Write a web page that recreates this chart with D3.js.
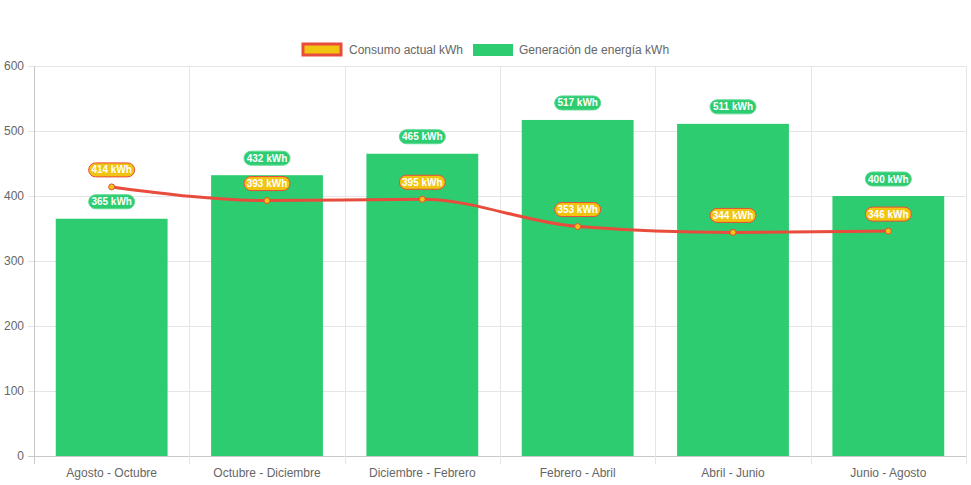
<!DOCTYPE html>
<html lang="es">
<head>
<meta charset="UTF-8">
<script src="https://d3js.org/d3.v7.min.js"></script>
<style>
  body { margin: 0; background: #fff; font-family: "Liberation Sans", Arial, sans-serif; }
  svg text { font-family: "Liberation Sans", Arial, sans-serif; }
</style>
</head>
<body>
<div id="chart"></div>
<script>
const periods = ["Agosto - Octubre", "Octubre - Diciembre", "Diciembre - Febrero", "Febrero - Abril", "Abril - Junio", "Junio - Agosto"];
const consumo = [414, 393, 395, 353, 344, 346];
const generacion = [365, 432, 465, 517, 511, 400];
const yTicks = [0, 100, 200, 300, 400, 500, 600];

const width = 971, height = 485;
const margin = { top: 66, right: 5, bottom: 29, left: 34 };
const green = "#2ecc71", yellow = "#f1c40f", red = "#e74c3c";

const svg = d3.select("#chart").append("svg")
    .attr("width", width)
    .attr("height", height);

const x = d3.scaleBand()
    .domain(periods)
    .range([margin.left, width - margin.right]);

const y = d3.scaleLinear()
    .domain([0, 600])
    .range([height - margin.bottom, margin.top]);

// grid
const grid = svg.append("g");
grid.selectAll("line.h")
    .data(yTicks)
    .enter().append("line")
    .attr("x1", margin.left - 6)
    .attr("x2", width - margin.right)
    .attr("y1", d => y(d) + 0.5)
    .attr("y2", d => y(d) + 0.5)
    .attr("stroke", d => d === 0 ? "#c8c8c8" : "#e5e5e5");

const vlines = periods.map(p => x(p)).concat([width - margin.right]);
grid.selectAll("line.v")
    .data(vlines)
    .enter().append("line")
    .attr("x1", d => Math.round(d) + 0.5)
    .attr("x2", d => Math.round(d) + 0.5)
    .attr("y1", margin.top)
    .attr("y2", height - margin.bottom + 8)
    .attr("stroke", (d, i) => i === 0 ? "#c8c8c8" : "#e5e5e5");

// y axis labels
svg.append("g").selectAll("text")
    .data(yTicks)
    .enter().append("text")
    .attr("x", margin.left - 10)
    .attr("y", d => y(d))
    .attr("dy", "0.35em")
    .attr("text-anchor", "end")
    .attr("font-size", 12)
    .attr("fill", "#666")
    .text(d => d);

// x axis labels
svg.append("g").selectAll("text")
    .data(periods)
    .enter().append("text")
    .attr("x", d => x(d) + x.bandwidth() / 2)
    .attr("y", height - margin.bottom + 17)
    .attr("dy", "0.35em")
    .attr("text-anchor", "middle")
    .attr("font-size", 12)
    .attr("fill", "#666")
    .text(d => d);

// bars
const barW = x.bandwidth() * 0.72;
svg.append("g").selectAll("rect")
    .data(generacion)
    .enter().append("rect")
    .attr("x", (d, i) => x(periods[i]) + (x.bandwidth() - barW) / 2)
    .attr("y", d => y(d))
    .attr("width", barW)
    .attr("height", d => y(0) - y(d))
    .attr("fill", green);

// line
const cx = i => x(periods[i]) + x.bandwidth() / 2;
const line = d3.line()
    .x((d, i) => cx(i))
    .y(d => y(d))
    .curve(d3.curveMonotoneX);

svg.append("path")
    .datum(consumo)
    .attr("d", line)
    .attr("fill", "none")
    .attr("stroke", red)
    .attr("stroke-width", 3);

svg.append("g").selectAll("circle")
    .data(consumo)
    .enter().append("circle")
    .attr("cx", (d, i) => cx(i))
    .attr("cy", d => y(d))
    .attr("r", 3)
    .attr("fill", yellow)
    .attr("stroke", red)
    .attr("stroke-width", 1);

// data labels
function addLabels(values, fill, stroke) {
    const g = svg.append("g").selectAll("g")
        .data(values)
        .enter().append("g")
        .attr("transform", (d, i) => `translate(${cx(i)},${y(d) - 17})`);
    g.append("rect")
        .attr("x", -23)
        .attr("y", -7)
        .attr("width", 46)
        .attr("height", 14)
        .attr("rx", 7)
        .attr("fill", fill)
        .attr("stroke", stroke)
        .attr("stroke-width", 1);
    g.append("text")
        .attr("text-anchor", "middle")
        .attr("dy", "0.35em")
        .attr("font-size", 10)
        .attr("font-weight", "bold")
        .attr("fill", "#fff")
        .text(d => d + " kWh");
}
addLabels(generacion, green, "#5fd994");
addLabels(consumo, yellow, red);

// legend
const legend = svg.append("g");
legend.append("rect")
    .attr("x", 303).attr("y", 44)
    .attr("width", 38).attr("height", 11)
    .attr("fill", yellow)
    .attr("stroke", red)
    .attr("stroke-width", 3);
legend.append("text")
    .attr("x", 349).attr("y", 50)
    .attr("dy", "0.35em")
    .attr("font-size", 12)
    .attr("fill", "#666")
    .text("Consumo actual kWh");
legend.append("rect")
    .attr("x", 473).attr("y", 44)
    .attr("width", 40).attr("height", 12)
    .attr("fill", green);
legend.append("text")
    .attr("x", 519).attr("y", 50)
    .attr("dy", "0.35em")
    .attr("font-size", 12)
    .attr("fill", "#666")
    .text("Generación de energía kWh");
</script>
</body>
</html>
